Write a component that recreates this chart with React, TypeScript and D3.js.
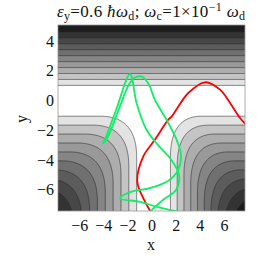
import React from "react";
import * as d3 from "d3";

// plot box (pixels) and data window
const W = 257;
const H = 257;
const box = { left: 58, right: 245, top: 25, bottom: 211 };
const xDomain = [-7.8, 7.7];
const yDomain = [-7.45, 5.05];

const xTicks = [-6, -4, -2, 0, 2, 4, 6];
const yTicks = [-6, -4, -2, 0, 2, 4];

// potential landscape
const topEdge = 0.97; // y where the upper bands start
const topStep = 0.4; // band spacing in y above
const channelLeft = -1.3;
const channelRight = 1.5;
const floorEdge = -1.1;
const leftStep = 0.65;
const rightStep = 0.56;
const floorStep = 0.6;
const cornerRound = 4.6; // in level units
const levels = [0, 1, 2, 3, 4, 5, 6, 7, 8, 9];
const bandGrays = [0.89, 0.77, 0.68, 0.6, 0.52, 0.44, 0.36, 0.28, 0.2, 0.11];

// trajectories
const redX = [-0.05, -0.67, -1.23, -0.73, 0.24, 1.34, 1.63, 3.0, 4.39, 5.63, 6.46, 7.29, 7.9];
const redY = [-7.6, -6.69, -5.46, -3.78, -2.65, -1.31, -1.09, 0.48, 1.2, 0.71, -0.19, -1.2, -1.75];

const greenX = [-0.26, -0.17, 0.9, 1.98, 2.23, 1.48, 0.49, -0.45, -1.28, -1.83, -2.95, -3.89, -4.09, -3.72, -2.76, -1.95, -1.45, -0.85, -0.3, 0.24, 1.21, 2.04, 2.4, 2.15, 1.32, -0.17, -1.83, -2.66, -1.0, 0.41, 2.31, 3.14];
const greenY = [-7.65, -7.52, -6.71, -6.04, -5.03, -3.89, -3.02, -2.01, -0.22, 1.75, -0.58, -2.6, -2.92, -2.55, -0.62, 1.0, 1.5, 1.58, 1.1, 0.01, -1.34, -2.68, -3.69, -4.7, -5.44, -5.91, -6.18, -6.6, -6.83, -7.18, -7.52, -7.72];

function field(x: number, y: number) {
  const top = Math.min((y - topEdge) / topStep, 9.5);
  const a = Math.max((channelLeft - x) / leftStep, (x - channelRight) / rightStep);
  const b = (floorEdge - y) / floorStep;
  const h = Math.max(cornerRound - Math.abs(a - b), 0) / cornerRound;
  const m = Math.min(a, b) - (h * h * cornerRound) / 4;
  return Math.max(top, m);
}

const fmt = (t: number) => (t < 0 ? "\u2212" + Math.abs(t) : String(t));

export default function App() {
  const x = d3.scaleLinear().domain(xDomain).range([box.left, box.right]);
  const y = d3.scaleLinear().domain(yDomain).range([box.bottom, box.top]);

  // sample the field on a grid and contour it
  const step = 0.04;
  const nx = Math.ceil((xDomain[1] - xDomain[0]) / step) + 3;
  const ny = Math.ceil((yDomain[1] - yDomain[0]) / step) + 3;
  const x0 = xDomain[0] - step;
  const y0 = yDomain[0] - step;
  const values = new Array(nx * ny);
  for (let j = 0; j < ny; j++) {
    for (let i = 0; i < nx; i++) {
      values[i + j * nx] = field(x0 + i * step, y0 + j * step);
    }
  }
  const contours = d3.contours().size([nx, ny]).thresholds(levels)(values);
  const proj = d3.geoTransform({
    point(px: number, py: number) {
      this.stream.point(x(x0 + px * step), y(y0 + py * step));
    },
  });
  const path = d3.geoPath(proj);
  const gray = (g: number) => d3.rgb(255 * g, 255 * g, 255 * g).toString();

  const curve = d3.line().curve(d3.curveCatmullRom.alpha(0.5));
  const redPts: [number, number][] = redX.map((v, i) => [x(v), y(redY[i])]);
  const greenPts: [number, number][] = greenX.map((v, i) => [x(v), y(greenY[i])]);

  const serif = "'Liberation Serif', 'Times New Roman', serif";

  return (
    <svg width={W} height={H} style={{ position: "absolute", left: 0, top: 0, background: "#fff" }}>
      <defs>
        <clipPath id="plotclip">
          <rect x={box.left} y={box.top} width={box.right - box.left} height={box.bottom - box.top} />
        </clipPath>
      </defs>
      <g clipPath="url(#plotclip)">
        <rect x={box.left} y={box.top} width={box.right - box.left} height={box.bottom - box.top} fill="#fff" />
        {contours.map((c, i) => (
          <path key={"f" + i} d={path(c as any) || ""} fill={gray(bandGrays[i])} stroke="none" />
        ))}
        {contours.map((c, i) => (
          <path key={"l" + i} d={path(c as any) || ""} fill="none" stroke="#2a2a2a" strokeWidth={0.6} />
        ))}
        <path d={curve(redPts) || ""} fill="none" stroke="#ff0000" strokeWidth={1.8} />
        <path d={curve(greenPts) || ""} fill="none" stroke="#11ee66" strokeWidth={1.8} />
      </g>
      <rect
        x={box.left}
        y={box.top}
        width={box.right - box.left}
        height={box.bottom - box.top}
        fill="none"
        stroke="#999"
        strokeWidth={0.8}
      />
      <g fontFamily={serif} fontSize={16} fill="#111">
        {xTicks.map((t) => (
          <text key={"x" + t} x={x(t)} y={231} textAnchor="middle">
            {fmt(t)}
          </text>
        ))}
        {yTicks.map((t) => (
          <text key={"y" + t} x={54} y={y(t) + 6} textAnchor="end">
            {fmt(t)}
          </text>
        ))}
        <text x={151} y={250} textAnchor="middle">x</text>
        <text transform="translate(27,119) rotate(-90)" textAnchor="middle">y</text>
        <text x={57} y={17} fontSize={17} textLength={188} lengthAdjust="spacing">
          <tspan fontStyle="italic">ε</tspan>
          <tspan fontSize={12} dy={3}>y</tspan>
          <tspan dy={-3}>=0.6 </tspan>
          <tspan fontStyle="italic">ħω</tspan>
          <tspan fontSize={12} dy={3}>d</tspan>
          <tspan dy={-3}>; </tspan>
          <tspan fontStyle="italic">ω</tspan>
          <tspan fontSize={12} dy={3}>c</tspan>
          <tspan dy={-3}>=1×10</tspan>
          <tspan fontSize={12} dy={-6}>−1</tspan>
          <tspan dy={6}> </tspan>
          <tspan fontStyle="italic">ω</tspan>
          <tspan fontSize={12} dy={3}>d</tspan>
        </text>
      </g>
    </svg>
  );
}
